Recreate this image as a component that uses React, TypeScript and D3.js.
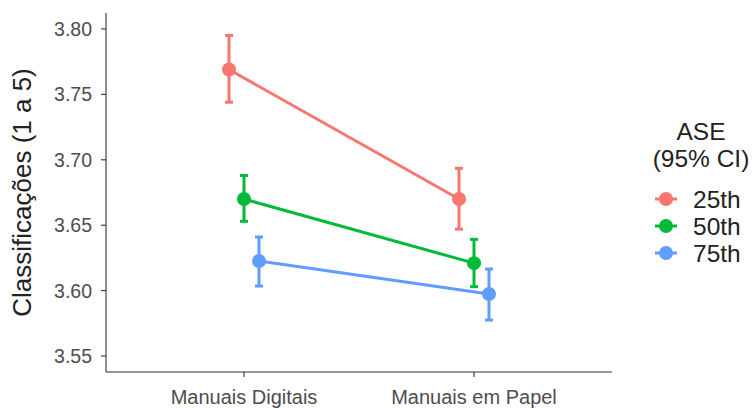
import React from "react";
import * as d3 from "d3";

const categories = ["Manuais Digitais", "Manuais em Papel"];
const groups = ["25th", "50th", "75th"];
const colors = ["#F8766D", "#00BA38", "#619CFF"];
// means[group][category]
const means = [
  [3.769, 3.670],
  [3.670, 3.621],
  [3.6226, 3.5974],
];
const lows = [
  [3.744, 3.647],
  [3.653, 3.603],
  [3.6035, 3.5775],
];
const highs = [
  [3.795, 3.6935],
  [3.688, 3.6392],
  [3.641, 3.6165],
];
const yTicks = [3.55, 3.6, 3.65, 3.7, 3.75, 3.8];

const W = 755;
const H = 408;
const left = 106;
const right = 612;
const top = 13;
const bottom = 372;
const font = "'Liberation Sans', Arial, Helvetica, sans-serif";

export default function App() {
  const y = d3.scaleLinear().domain([3.5378, 3.8122]).range([bottom, top]);
  // ggplot discrete: 0.6 units expansion each side, 1 unit between
  const x = d3.scalePoint<string>().domain(categories).range([left, right]).padding(0.6);
  const xc = (i: number) => x(categories[i]) as number;
  const dodge = 15;
  const line = d3.line<[number, number]>().x((d) => d[0]).y((d) => d[1]);

  return (
    <svg width={W} height={H} style={{ position: "absolute", left: 0, top: 0, background: "#fff" }}>
      {/* axes */}
      <line x1={left} x2={left} y1={top} y2={bottom} stroke="#333" strokeWidth={1.1} />
      <line x1={left} x2={right} y1={bottom} y2={bottom} stroke="#333" strokeWidth={1.1} />
      {yTicks.map((t) => (
        <g key={t}>
          <line x1={left - 5} x2={left} y1={y(t)} y2={y(t)} stroke="#333" strokeWidth={1.1} />
          <text x={left - 14} y={y(t)} dy="0.36em" textAnchor="end" fontSize={19.5} fill="#4D4D4D" fontFamily={font}>
            {t.toFixed(2)}
          </text>
        </g>
      ))}
      {categories.map((c, i) => (
        <g key={c}>
          <line x1={xc(i)} x2={xc(i)} y1={bottom} y2={bottom + 5} stroke="#333" strokeWidth={1.1} />
          <text x={xc(i)} y={bottom + 32} textAnchor="middle" fontSize={20} fill="#4D4D4D" fontFamily={font}>
            {c}
          </text>
        </g>
      ))}
      <text
        transform={`translate(31,${(top + bottom) / 2}) rotate(-90)`}
        textAnchor="middle"
        fontSize={26}
        fill="#222"
        fontFamily={font}
      >
        Classificações (1 a 5)
      </text>

      {/* series */}
      {groups.map((g, gi) => {
        const off = (gi - 1) * dodge;
        const pts: [number, number][] = categories.map((_, ci) => [xc(ci) + off, y(means[gi][ci])]);
        return (
          <g key={g}>
            <path d={line(pts) || ""} fill="none" stroke={colors[gi]} strokeWidth={3} />
            {categories.map((_, ci) => {
              const cx = xc(ci) + off;
              return (
                <g key={ci}>
                  <line x1={cx} x2={cx} y1={y(lows[gi][ci])} y2={y(highs[gi][ci])} stroke={colors[gi]} strokeWidth={3} />
                  <line x1={cx - 4} x2={cx + 4} y1={y(lows[gi][ci])} y2={y(lows[gi][ci])} stroke={colors[gi]} strokeWidth={3} />
                  <line x1={cx - 4} x2={cx + 4} y1={y(highs[gi][ci])} y2={y(highs[gi][ci])} stroke={colors[gi]} strokeWidth={3} />
                  <circle cx={cx} cy={y(means[gi][ci])} r={7} fill={colors[gi]} />
                </g>
              );
            })}
          </g>
        );
      })}

      {/* legend */}
      <text x={701} y={140} textAnchor="middle" fontSize={24.5} fill="#222" fontFamily={font}>ASE</text>
      <text x={701} y={167} textAnchor="middle" fontSize={24.5} fill="#222" fontFamily={font}>(95% CI)</text>
      {groups.map((g, gi) => {
        const ly = 199 + gi * 27;
        return (
          <g key={g}>
            <line x1={655} x2={677} y1={ly} y2={ly} stroke={colors[gi]} strokeWidth={3} />
            <circle cx={666} cy={ly} r={7} fill={colors[gi]} />
            <text x={693} y={ly} dy="0.36em" fontSize={24.5} fill="#222" fontFamily={font}>{g}</text>
          </g>
        );
      })}
    </svg>
  );
}
